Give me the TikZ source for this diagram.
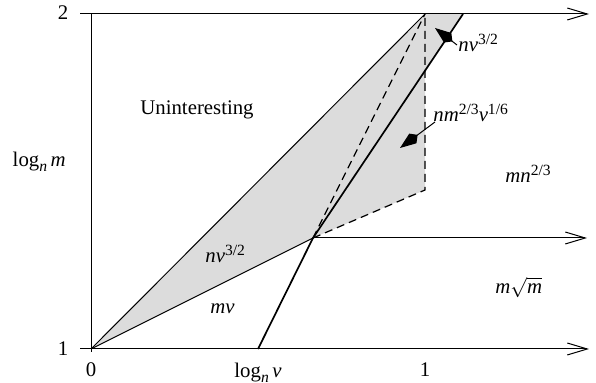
\documentclass[tikz,border=0pt]{standalone}
\usepackage{fontspec}
\setmainfont{Liberation Serif}
\usetikzlibrary{arrows.meta}
\definecolor{shadegray}{RGB}{220,220,220}
\newcommand{\mysup}[1]{\raisebox{3.6pt}{\fontsize{7.8}{9}\selectfont #1}}
\newcommand{\mysub}[1]{\raisebox{-2.2pt}{\fontsize{7.8}{9}\selectfont\itshape #1}}
\tikzset{
  axisline/.style={line width=0.5pt,-{Straight Barb[length=10pt,width=6pt]}},
  thinline/.style={line width=0.5pt},
  thickline/.style={line width=0.85pt},
  dashline/.style={line width=0.6pt,dash pattern=on 4pt off 2.5pt},
  pointer/.style={line width=0.5pt,-{Kite[length=11pt,width=6pt,inset=3pt]}},
  lbl/.style={inner sep=0pt,font=\fontsize{10.4}{12}\selectfont},
}
\begin{document}
\begin{tikzpicture}[x=0.5pt,y=-0.5pt]
\useasboundingbox (0,0) rectangle (596,383);
\coordinate (O) at (91,349);
\coordinate (A) at (425,14);
\coordinate (B) at (463,14);
\coordinate (P) at (313,238);
\coordinate (C) at (425,70.7);
\coordinate (D) at (425,190);
\coordinate (F) at (258,349);
\coordinate (T0) at (80,14);
\coordinate (T1) at (589,14);
\coordinate (B0) at (80,349);
\coordinate (B1) at (589,349);
\coordinate (M1) at (587,238);
\coordinate (V0) at (91,14);
\coordinate (V1) at (91,352);
% shaded region
\fill[shadegray] (O) -- (A) -- (B) -- (C) -- (D) -- (P) -- cycle;
% axes
\draw[axisline] (T0) -- (T1);
\draw[axisline] (B0) -- (B1);
\draw[axisline] (P) -- (M1);
\draw[thinline] (V0) -- (V1);
% boundaries
\draw[thinline] (O) -- (A);
\draw[thinline] (O) -- (P);
\draw[thickline] (F) -- (P) -- (B);
\draw[dashline] (P) -- (A);
\draw[dashline] (P) -- (D) -- (A);
% labels
\node[lbl] (y2) at (63,13) {2};
\node[lbl] (y1) at (63,349) {1};
\node[lbl,anchor=base] (x0) at (91,377) {0};
\node[lbl,anchor=base] (x1) at (425,377) {1};
\node[lbl,anchor=base] (xl) at (258,378) {log\mysub{n}\,\textit{v}};
\node[lbl,anchor=base east] (yl) at (66,167) {log\mysub{n}\,\textit{m}};
\node[lbl,anchor=base] (un) at (197,115) {Uninteresting};
\node[lbl,anchor=base west] (l1) at (458,52) {\textit{nv}\mysup{3/2}};
\node[lbl,anchor=base west] (l2) at (433,122) {\textit{nm}\mysup{2/3}\textit{v}\mysup{1/6}};
\node[lbl,anchor=base west] (l3) at (505,183) {\textit{mn}\mysup{2/3}};
\node[lbl,anchor=base west] (l4) at (495,294) {\textit{m}$\sqrt{\textit{m}}$};
\node[lbl,anchor=base west] (l5) at (210,314) {\textit{mv}};
\node[lbl,anchor=base west] (l6) at (205,263) {\textit{nv}\mysup{3/2}};
% pointers
\coordinate (p1s) at (457,45);
\coordinate (p1e) at (435,28);
\coordinate (p2s) at (435,122);
\coordinate (p2e) at (400,148);
\draw[pointer] (p1s) -- (p1e);
\draw[pointer] (p2s) -- (p2e);
\end{tikzpicture}
\end{document}
